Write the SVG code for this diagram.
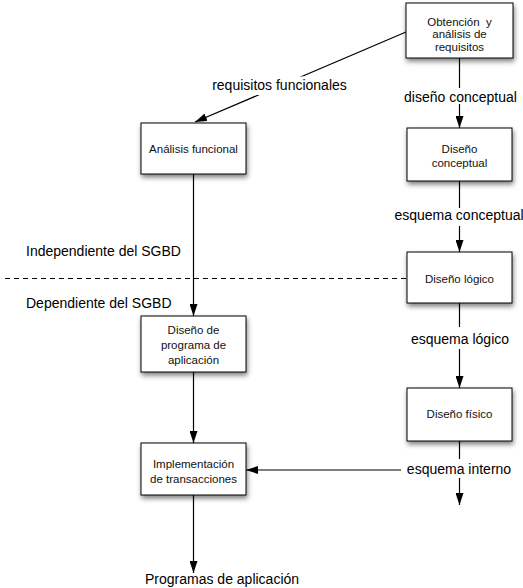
<svg xmlns="http://www.w3.org/2000/svg" width="523" height="588" viewBox="0 0 523 588">
<defs>
<filter id="sh" x="-20%" y="-20%" width="150%" height="160%">
<feDropShadow dx="1" dy="3" stdDeviation="2.5" flood-color="#000" flood-opacity="0.5"/>
</filter>
<marker id="ah" markerWidth="12" markerHeight="8" refX="12" refY="4" orient="auto" markerUnits="userSpaceOnUse"><path d="M0,0 L12,4 L0,8 z" fill="#000"/></marker>
</defs>
<style>
.box{fill:#fff;stroke:#000;stroke-width:1;filter:url(#sh)}
.bt{font-family:"Liberation Sans",Arial,Helvetica,sans-serif;font-size:11.5px;text-anchor:middle;fill:#111}
.lbl{font-family:"Liberation Sans",Arial,Helvetica,sans-serif;font-size:14px;fill:#000}
.mid{text-anchor:middle}
.c{stroke:#000;stroke-width:1.2;fill:none}
.m{fill:#fff}
</style>
<rect width="523" height="588" fill="#fff"/>

<g id="connectors">
<line class="c" x1="5" y1="278.5" x2="407" y2="278.5" stroke-dasharray="5,4" stroke-width="1"/>
<line class="c" x1="406" y1="32" x2="195" y2="122" marker-end="url(#ah)"/>
<rect class="m" x="211" y="76.5" width="136" height="18.5"/>
<text class="lbl mid" x="279.5" y="89.5">requisitos funcionales</text>
<line class="c" x1="459.5" y1="58" x2="459.5" y2="128" marker-end="url(#ah)"/>
<rect class="m" x="400" y="88" width="120" height="16"/>
<text class="lbl mid" x="460.5" y="101.5">diseño conceptual</text>
<line class="c" x1="459.5" y1="181" x2="459.5" y2="252" marker-end="url(#ah)"/>
<rect class="m" x="393" y="208" width="130" height="18"/>
<text class="lbl mid" x="459" y="220">esquema conceptual</text>
<line class="c" x1="459.5" y1="303" x2="459.5" y2="388" marker-end="url(#ah)"/>
<rect class="m" x="400" y="327" width="120" height="22"/>
<text class="lbl mid" x="460" y="344">esquema lógico</text>
<line class="c" x1="459.5" y1="441" x2="459.5" y2="505" marker-end="url(#ah)"/>
<line class="c" x1="459.5" y1="470" x2="246" y2="470" marker-end="url(#ah)"/>
<rect class="m" x="401" y="459" width="116" height="19"/>
<text class="lbl mid" x="459" y="474">esquema interno</text>
<line class="c" x1="193.5" y1="174" x2="193.5" y2="316" marker-end="url(#ah)"/>
<line class="c" x1="193.5" y1="372" x2="193.5" y2="443" marker-end="url(#ah)"/>
<line class="c" x1="193.5" y1="495" x2="193.5" y2="573" marker-end="url(#ah)"/>
</g>

<g id="lbl-independiente"><text class="lbl" x="26" y="256">Independiente del SGBD</text></g>
<g id="lbl-dependiente"><text class="lbl" x="26" y="308">Dependiente del SGBD</text></g>
<g id="lbl-programas"><text class="lbl" x="145" y="584">Programas de aplicación</text></g>

<g id="n-obtencion">
<rect class="box" x="406" y="3" width="107" height="55"/>
<text class="bt" x="459.5" y="25.5" xml:space="preserve">Obtención  y</text>
<text class="bt" x="459.5" y="38">análisis de</text>
<text class="bt" x="459.5" y="50.5">requisitos</text>
</g>
<g id="n-conceptual">
<rect class="box" x="407" y="128" width="105" height="53"/>
<text class="bt" x="459.5" y="153">Diseño</text>
<text class="bt" x="459.5" y="166.5">conceptual</text>
</g>
<g id="n-logico">
<rect class="box" x="407" y="252" width="105" height="51"/>
<text class="bt" x="459.5" y="282.5">Diseño lógico</text>
</g>
<g id="n-fisico">
<rect class="box" x="407" y="388" width="105" height="53"/>
<text class="bt" x="459.5" y="418">Diseño físico</text>
</g>
<g id="n-funcional">
<rect class="box" x="141" y="123" width="105" height="51"/>
<text class="bt" x="193.5" y="153">Análisis funcional</text>
</g>
<g id="n-programa">
<rect class="box" x="141" y="316" width="105" height="56"/>
<text class="bt" x="193.5" y="334">Diseño de</text>
<text class="bt" x="193.5" y="349">programa de</text>
<text class="bt" x="193.5" y="364">aplicación</text>
</g>
<g id="n-implementacion">
<rect class="box" x="141" y="443" width="105" height="52"/>
<text class="bt" x="193.5" y="468">Implementación</text>
<text class="bt" x="193.5" y="483">de transacciones</text>
</g>
</svg>
